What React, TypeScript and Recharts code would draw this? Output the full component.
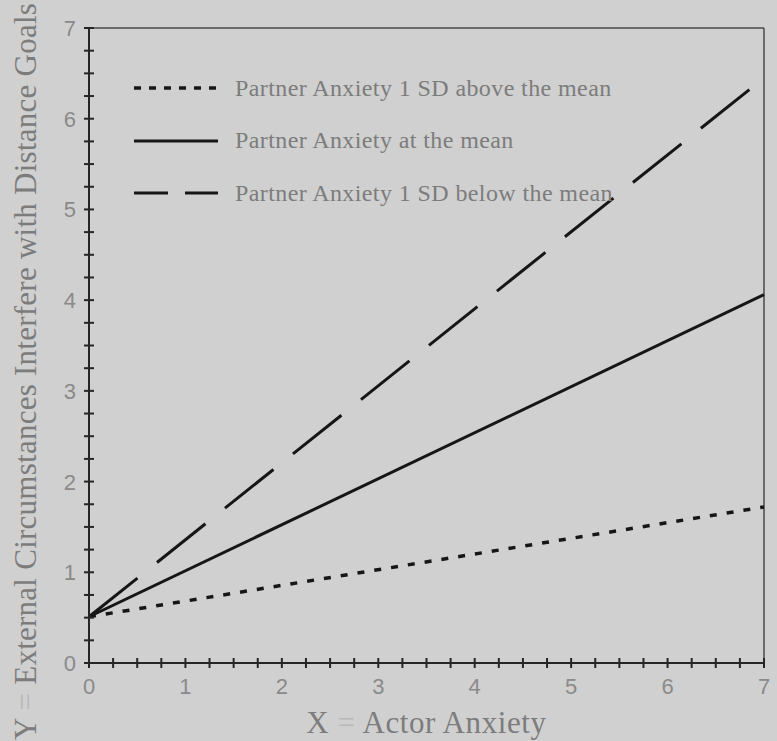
import { Label, Legend, Line, LineChart, ReferenceLine, XAxis, YAxis } from "recharts";

// Actor anxiety at the two ends of the plotted range
const actorAnxiety = [0, 7];
// Predicted outcome at each level of partner anxiety
const partnerAbove = [0.51, 1.72];
const partnerMean = [0.51, 4.06];
const partnerBelow = [0.51, 6.45];

const majorTicks = [0, 1, 2, 3, 4, 5, 6, 7];
const minorStep = 0.25;

const seriesNames = [
  "Partner Anxiety 1 SD above the mean",
  "Partner Anxiety at the mean",
  "Partner Anxiety 1 SD below the mean",
];

const rows = actorAnxiety.map((x, i) => ({
  x,
  above: partnerAbove[i],
  mean: partnerMean[i],
  below: partnerBelow[i],
}));

const quarterTicks: number[] = [];
for (let v = majorTicks[0]; v <= majorTicks[majorTicks.length - 1] + 1e-9; v += minorStep) {
  quarterTicks.push(Math.round(v * 100) / 100);
}

const INK = "#161616";
const AXIS = "#262626";
const LABEL = "#7c7c7c";
const SERIF = "'Liberation Serif', 'Times New Roman', serif";
const SANS = "'Liberation Sans', Arial, sans-serif";

const legendStyles = [
  { dash: "7 8", width: 3.5 },
  { dash: undefined, width: 3 },
  { dash: "34 17", width: 3 },
];

function XTick(props: any) {
  const { x, y, payload } = props;
  const v = payload.value;
  return (
    <g>
      <line x1={x} x2={x} y1={y - 5} y2={y + 5} stroke={AXIS} strokeWidth={2} />
      {Number.isInteger(v) && (
        <text x={x} y={y + 31} textAnchor="middle" fontFamily={SANS} fontSize={22} fill="#8a8a8a">
          {v}
        </text>
      )}
    </g>
  );
}

function YTick(props: any) {
  const { x, y, payload } = props;
  const v = payload.value;
  return (
    <g>
      <line x1={x - 5} x2={x + 5} y1={y} y2={y} stroke={AXIS} strokeWidth={2} />
      {Number.isInteger(v) && (
        <text x={x - 13} y={y + 8} textAnchor="end" fontFamily={SANS} fontSize={22} fill="#8a8a8a">
          {v}
        </text>
      )}
    </g>
  );
}

function renderLegend() {
  return (
    <div>
      {seriesNames.map((name, i) => (
        <div key={name} style={{ display: "flex", alignItems: "center", height: 52.5 }}>
          <svg width={86} height={10}>
            <line
              x1={1}
              x2={85}
              y1={5}
              y2={5}
              stroke={INK}
              strokeWidth={legendStyles[i].width}
              strokeDasharray={legendStyles[i].dash}
            />
          </svg>
          <span
            style={{
              marginLeft: 16,
              fontFamily: SERIF,
              fontSize: 24,
              letterSpacing: 0.4,
              color: LABEL,
              whiteSpace: "nowrap",
            }}
          >
            {name}
          </span>
        </div>
      ))}
    </div>
  );
}

function XLabel(props: any) {
  const { x, y, width } = props.viewBox;
  return (
    <text
      x={x + width / 2}
      y={y + 70}
      textAnchor="middle"
      fontFamily={SERIF}
      fontSize={31}
      letterSpacing={0.6}
      fill={LABEL}
    >
      X <tspan fill="#b9b9b9">=</tspan> Actor Anxiety
    </text>
  );
}

function YLabel(props: any) {
  const { y, height } = props.viewBox;
  const bx = 36;
  const by = y + height + 77;
  return (
    <text
      x={bx}
      y={by}
      transform={`rotate(-90, ${bx}, ${by})`}
      textAnchor="start"
      fontFamily={SERIF}
      fontSize={31}
      letterSpacing={0.25}
      fill={LABEL}
    >
      Y <tspan fill="#b9b9b9">=</tspan> External Circumstances Interfere with Distance Goals
    </text>
  );
}

export default function App() {
  return (
    <div
      style={{
        position: "absolute",
        left: 0,
        top: 0,
        width: 777,
        height: 741,
        background: "#d0d0d0",
        overflow: "hidden",
      }}
    >
      <LineChart width={777} height={741} data={rows} margin={{ top: 28, right: 13, bottom: 0, left: 0 }}>
        <XAxis
          dataKey="x"
          type="number"
          domain={[0, 7]}
          ticks={quarterTicks}
          interval={0}
          height={78}
          tickSize={0}
          tickMargin={0}
          tickLine={false}
          axisLine={{ stroke: AXIS, strokeWidth: 2 }}
          tick={<XTick />}
        >
          <Label content={<XLabel />} />
        </XAxis>
        <YAxis
          type="number"
          domain={[0, 7]}
          ticks={quarterTicks}
          interval={0}
          width={89}
          tickSize={0}
          tickMargin={0}
          tickLine={false}
          axisLine={{ stroke: AXIS, strokeWidth: 2 }}
          tick={<YTick />}
        >
          <Label content={<YLabel />} />
        </YAxis>
        <ReferenceLine y={7} stroke="#4a4a4a" strokeWidth={1.5} />
        <ReferenceLine x={7} stroke="#4a4a4a" strokeWidth={1.5} />
        <Line dataKey="above" stroke={INK} strokeWidth={3.5} strokeDasharray="7 10" dot={false} isAnimationActive={false} />
        <Line dataKey="mean" stroke={INK} strokeWidth={3} dot={false} isAnimationActive={false} />
        <Line dataKey="below" stroke={INK} strokeWidth={3} strokeDasharray="62 25" dot={false} isAnimationActive={false} />
        <Legend
          layout="vertical"
          align="center"
          verticalAlign="middle"
          content={renderLegend}
          wrapperStyle={{ position: "absolute", top: 62, left: 133, width: "auto", bottom: "auto", right: "auto" }}
        />
      </LineChart>
    </div>
  );
}
